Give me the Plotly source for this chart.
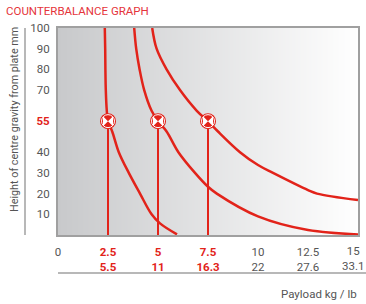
import plotly.graph_objects as go

# ---- data ----
title_text = "COUNTERBALANCE GRAPH"
y_title = "Height of centre gravity from plate mm"
x_title = "Payload kg / lb"

x_tick_kg = [0, 2.5, 5, 7.5, 10, 12.5, 15]
x_tick_kg_labels = ["0", "2.5", "5", "7.5", "10", "12.5", "15"]
x_tick_lb_labels = ["", "5.5", "11", "16.3", "22", "27.6", "33.1"]
x_tick_highlight = [False, True, True, True, False, False, False]

y_tick_vals = [10, 20, 30, 40, 50, 55, 60, 70, 80, 90, 100]
y_tick_labels = ["10", "20", "30", "40", "", "55", "", "70", "80", "90", "100"]

rated_kg = [2.5, 5, 7.5]
rated_height = [55, 55, 55]

curve1_kg = [2.34, 2.36, 2.37, 2.39, 2.44, 2.5, 2.71, 3.04, 3.54, 4.1, 4.68, 5.1, 5.95]
curve1_h = [100, 90, 80, 70, 60, 55, 50, 40, 30, 20, 10, 5.6, 0.3]

curve2_kg = [3.81, 3.91, 4.08, 4.31, 4.68, 5.0, 5.43, 6.02, 6.85, 7.5, 7.94, 10.0, 12.5, 15.0]
curve2_h = [100, 90, 80, 70, 60, 55, 50, 40, 30, 23.3, 20, 9, 2.4, 0.3]

curve3_kg = [4.71, 4.93, 5.43, 6.1, 6.94, 7.5, 8.0, 9.1, 10.0, 10.75, 12.5, 12.95, 15.0]
curve3_h = [100, 90, 80, 70, 60, 55, 50, 40, 33.8, 30, 21.7, 20, 16.9]

RED = "#e2231a"
GRAY_TXT = "#555555"
GRID = "#a0a0a0"
FONT = "Roboto, Liberation Sans, sans-serif"

W, H = 366, 304
ML, MR, MT, MB = 58, 8, 28, 69

fig = go.Figure()

# background gradient
fig.add_trace(go.Heatmap(
    x=[0, 15], y=[0, 100], z=[[0, 1], [0, 1]],
    zsmooth="best", showscale=False, hoverinfo="skip",
    colorscale=[[0, "#c8c9cb"], [1, "#ffffff"]],
))

# invisible trace for secondary x grid
fig.add_trace(go.Scatter(x=[0, 15], y=[0, 0], xaxis="x2", mode="lines",
                         line=dict(width=0), hoverinfo="skip", showlegend=False))

# drop lines
for k, h in zip(rated_kg, rated_height):
    fig.add_trace(go.Scatter(x=[k, k], y=[0, h], mode="lines",
                             line=dict(color=RED, width=2), showlegend=False, hoverinfo="skip"))

for cx, cy in [(curve1_kg, curve1_h), (curve2_kg, curve2_h), (curve3_kg, curve3_h)]:
    fig.add_trace(go.Scatter(x=cx, y=cy, mode="lines",
                             line=dict(color=RED, width=2.5, shape="spline", smoothing=1.0),
                             showlegend=False, hoverinfo="skip"))

# markers
fig.add_trace(go.Scatter(x=rated_kg, y=rated_height, mode="markers",
                         marker=dict(symbol="circle", size=16, color=RED, line=dict(width=0)),
                         showlegend=False, hoverinfo="skip"))
fig.add_trace(go.Scatter(x=rated_kg, y=rated_height, mode="markers",
                         marker=dict(symbol="circle", size=13, color=RED, line=dict(width=1, color="white")),
                         showlegend=False, hoverinfo="skip"))
fig.add_trace(go.Scatter(x=rated_kg, y=rated_height, mode="markers",
                         marker=dict(symbol="bowtie", size=10, color="white", line=dict(width=0)),
                         showlegend=False, hoverinfo="skip"))

def xlab(kg, lb, hl):
    if hl:
        return f"<span style='color:{RED}'><b>{kg}</b><br><b>{lb}</b></span>"
    return kg if not lb else f"{kg}<br>{lb}"

n = len(x_tick_kg_labels)
# the right-most tick label is drawn as an annotation so it stays inside the page
x_ticktext = [xlab(a, b, c) if i < n - 1 else ""
              for i, (a, b, c) in enumerate(zip(x_tick_kg_labels, x_tick_lb_labels, x_tick_highlight))]
y_ticktext = [f"<span style='color:{RED}'><b>{t}</b></span>" if t == "55" else t for t in y_tick_labels]

fig.update_layout(
    width=W, height=H,
    margin=dict(l=ML, r=MR, t=MT, b=MB, autoexpand=False),
    paper_bgcolor="white", plot_bgcolor="white",
    font=dict(family=FONT, size=11.5, color=GRAY_TXT),
    showlegend=False,
    xaxis=dict(range=[0, 15], tickvals=x_tick_kg, ticktext=x_ticktext, showgrid=False,
               showline=True, linecolor=GRID, linewidth=2, mirror=True, zeroline=False,
               ticks="", ticklabelstandoff=5, fixedrange=True, automargin=False,
               ticklabeloverflow="allow"),
    xaxis2=dict(range=[0, 15], overlaying="x", tickvals=[10, 12.5], showgrid=True,
                gridcolor=GRID, gridwidth=1.5, showticklabels=False, zeroline=False,
                showline=False, ticks="", automargin=False, fixedrange=True),
    yaxis=dict(range=[0, 100], tickvals=y_tick_vals, ticktext=y_ticktext, showgrid=True,
               gridcolor=GRID, gridwidth=1.5, showline=True, linecolor=GRID, linewidth=2,
               mirror=True, zeroline=False, ticks="", ticklabelstandoff=4, fixedrange=True,
               automargin=False),
)

pw, ph = W - ML - MR, H - MT - MB
def px_x(p): return (p - ML) / pw
def px_y(p): return (H - MB - p) / ph

fig.add_annotation(text=f"{x_tick_kg_labels[-1]}<br>{x_tick_lb_labels[-1]}",
                   xref="paper", yref="paper", x=px_x(366), y=px_y(258.5),
                   xanchor="right", yanchor="middle", align="center", showarrow=False,
                   font=dict(family=FONT, size=11.5, color=GRAY_TXT))
fig.add_annotation(text=title_text, xref="paper", yref="paper", x=px_x(4), y=px_y(11),
                   xanchor="left", yanchor="middle", showarrow=False,
                   font=dict(family=FONT, size=11.5, color="#e5343a"))
fig.add_annotation(text=y_title, xref="paper", yref="paper", x=px_x(14), y=px_y(120),
                   xanchor="center", yanchor="middle", textangle=-90, showarrow=False,
                   font=dict(family=FONT, size=10.8, color=GRAY_TXT))
fig.add_annotation(text=x_title, xref="paper", yref="paper", x=px_x(359), y=px_y(294),
                   xanchor="right", yanchor="middle", showarrow=False,
                   font=dict(family=FONT, size=11.5, color=GRAY_TXT))

fig.add_shape(type="line", xref="paper", yref="paper", x0=px_x(25), x1=px_x(25),
              y0=px_y(28), y1=px_y(235), line=dict(color=GRID, width=1.5))
fig.add_shape(type="line", xref="paper", yref="paper", x0=px_x(58), x1=px_x(366),
              y0=px_y(273), y1=px_y(273), line=dict(color=GRID, width=1.5))

fig.write_html("out.html", config={"displayModeBar": False, "staticPlot": True},
               post_script="document.body.style.margin='0';document.body.style.overflow='hidden';")
